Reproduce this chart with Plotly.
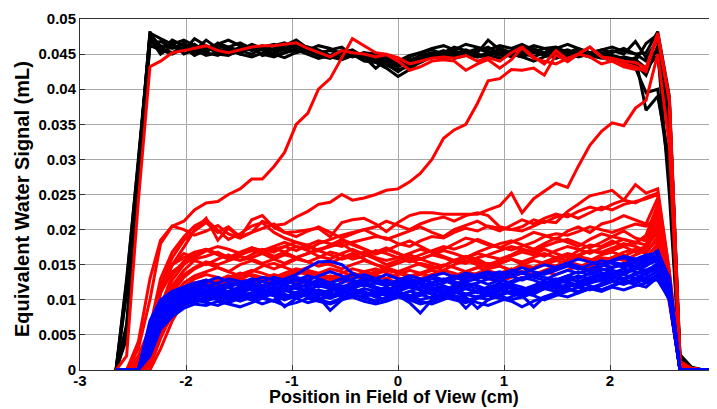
import plotly.graph_objects as go

# sample positions along the field of view (cm)
x_pos = [-2.66, -2.56, -2.45, -2.34, -2.24, -2.13, -2.02, -1.92, -1.81, -1.70,
         -1.60, -1.49, -1.38, -1.28, -1.17, -1.07, -0.96, -0.85, -0.75, -0.64,
         -0.53, -0.43, -0.32, -0.21, -0.11, 0.00, 0.11, 0.21, 0.32, 0.43,
         0.53, 0.64, 0.75, 0.85, 0.96, 1.07, 1.17, 1.28, 1.38, 1.49,
         1.60, 1.70, 1.81, 1.92, 2.02, 2.13, 2.24, 2.34, 2.45, 2.56,
         2.66, 2.77, 2.88, 2.98]

# signal values in units of 1e-4 mL
UNIT = 1e-4

black_curves = [
    [0,50,280,478,
     462,458,466,455,470,458,452,460,456,462,
     455,458,464,460,452,455,450,446,452,444,
     438,432,440,448,452,446,450,456,450,446,
     458,452,450,455,448,452,456,450,446,452,
     448,444,440,465,478,380,20,3,0,0],
    [0,110,290,482,
     455,470,462,458,452,466,460,455,450,458,
     462,466,458,454,450,448,455,452,445,440,
     436,425,436,444,450,455,448,452,458,452,
     448,454,460,452,450,446,452,458,452,448,
     455,450,468,445,470,360,15,2,0,0],
    [0,60,275,465,
     468,460,455,472,462,450,448,456,464,458,
     450,445,452,460,456,448,446,450,440,438,
     430,418,428,440,446,452,460,455,448,450,
     452,446,455,462,458,450,448,452,446,450,
     444,438,445,370,390,300,12,2,0,0],
    [0,125,300,476,
     458,452,460,448,456,462,458,450,446,452,
     458,462,470,458,450,456,460,448,444,446,
     440,436,442,446,448,444,452,448,455,460,
     450,448,452,446,452,456,450,455,448,444,
     446,440,436,420,462,340,18,3,0,0],
    [0,45,270,470,
     460,466,450,456,448,452,460,466,458,450,
     446,452,456,450,444,448,452,456,446,430,
     442,440,446,452,456,450,444,448,452,470,
     456,450,446,452,458,460,452,446,450,456,
     452,458,450,440,455,250,10,2,0,0],
    [0,130,295,472,
     450,462,458,452,460,455,450,454,460,448,
     452,456,462,454,448,444,452,450,448,442,
     434,428,432,438,446,450,455,450,446,452,
     456,446,452,458,450,444,450,448,452,446,
     440,436,430,395,400,280,8,1,0,0],
    [0,115,290,480,
     472,464,470,462,458,464,470,462,455,460,
     464,458,452,456,462,458,450,452,448,446,
     444,440,448,452,458,462,456,464,460,456,
     462,458,464,456,452,458,464,458,452,456,
     460,454,450,452,482,390,22,4,0,0],
    [0,65,270,462,
     456,450,458,464,452,448,456,450,462,456,
     448,452,458,455,450,446,442,448,452,450,
     446,438,436,442,448,444,446,450,446,448,
     444,450,446,440,446,450,444,448,452,446,
     442,446,442,430,448,330,14,2,0,0],
]

red_curves = [
    [0,0,0,10,
     60,95,118,130,136,132,128,136,142,138,
     132,138,144,140,134,130,138,144,140,134,
     130,136,142,138,132,128,134,140,146,142,
     136,142,148,144,150,156,152,146,154,160,
     158,164,156,160,180,100,3,0,0,0],
    [0,0,0,8,
     55,90,110,122,128,124,132,138,134,128,
     124,130,136,142,138,132,126,132,140,144,
     138,132,126,130,136,142,138,132,138,144,
     148,142,138,146,152,148,156,162,158,152,
     160,168,172,166,190,105,4,0,0,0],
    [0,0,0,12,
     70,104,124,134,140,146,140,134,140,148,
     152,146,140,146,154,150,144,150,156,150,
     144,140,146,152,148,142,150,156,150,146,
     152,158,154,160,166,160,156,164,170,166,
     170,176,168,174,198,110,4,0,0,0],
    [0,0,0,5,
     45,80,102,116,124,120,126,130,126,120,
     126,132,128,122,128,134,130,124,128,134,
     130,124,120,126,132,128,122,128,134,130,
     126,132,138,134,140,136,142,148,144,150,
     146,152,158,150,175,95,3,0,0,0],
    [0,0,0,15,
     80,116,136,146,154,150,156,162,158,152,
     158,164,160,154,160,168,164,158,162,170,
     166,160,154,158,164,160,154,160,166,162,
     158,164,172,168,162,170,176,172,166,174,
     180,186,182,178,220,118,5,1,0,0],
    [0,0,0,6,
     50,88,112,124,120,128,134,130,124,130,
     136,132,126,132,138,144,140,134,130,136,
     142,138,132,136,142,138,134,140,136,132,
     138,144,140,136,142,148,154,150,146,154,
     160,156,164,170,185,100,3,0,0,0],
    [0,0,0,0,
     30,70,98,114,122,128,124,130,136,132,
     128,134,140,136,130,126,132,138,134,140,
     146,140,134,138,144,150,146,140,146,152,
     148,142,150,156,152,158,164,160,156,164,
     168,162,170,176,196,108,4,0,0,0],
    [0,0,0,40,
     110,150,166,160,170,176,172,166,170,168,
     174,168,160,166,172,176,180,170,164,168,
     174,166,160,158,164,170,166,160,168,174,
     180,184,178,172,180,188,182,176,186,194,
     190,198,188,184,228,115,4,1,0,0],
    [0,0,0,30,
     90,135,155,166,172,164,158,166,174,170,
     162,168,176,170,162,158,166,172,165,158,
     150,156,164,158,152,148,156,162,158,150,
     156,162,168,164,172,166,160,170,178,176,
     184,176,182,190,200,110,4,0,0,0],
    [0,0,0,25,
     80,120,142,156,150,158,164,156,160,166,
     158,152,160,166,170,164,158,162,168,160,
     156,160,166,172,168,162,156,152,160,164,
     170,176,172,168,176,182,186,180,174,182,
     190,186,180,192,236,125,5,1,0,0],
    [0,0,0,15,
     70,110,132,144,152,146,140,150,156,150,
     144,150,158,154,148,152,160,166,158,150,
     146,152,158,150,144,148,156,160,154,148,
     152,158,150,146,154,160,166,162,170,168,
     174,180,176,170,210,110,4,1,0,0],
    [0,0,0,20,
     90,128,150,162,170,166,160,156,164,172,
     168,176,182,178,170,176,184,178,172,166,
     172,166,158,164,170,176,172,178,186,180,
     174,182,188,196,192,186,198,204,196,208,
     212,220,214,208,245,130,5,1,0,0],
    [0,0,10,60,
     130,168,190,205,214,200,186,194,205,210,
     196,188,182,176,170,178,186,180,172,165,
     170,178,184,176,168,172,180,188,184,178,
     175,171,176,182,190,194,192,197,204,200,
     196,202,208,205,218,120,5,1,0,0],
    [0,0,10,60,
     110,140,152,158,162,168,160,164,170,166,
     172,176,170,178,184,180,176,182,186,190,
     188,180,176,184,190,188,196,202,198,205,
     202,200,204,214,210,218,222,216,224,232,
     228,236,240,244,250,135,6,1,0,0],
    [0,0,40,130,
     185,205,200,192,198,206,194,188,196,202,
     208,196,190,198,204,196,188,194,200,192,
     186,192,198,204,196,190,200,206,212,204,
     198,206,214,208,216,222,218,226,232,228,
     236,242,238,246,252,140,6,1,0,0],
    [0,0,5,50,
     120,150,160,168,172,166,160,168,174,170,
     176,182,176,172,180,186,192,196,200,204,
     212,206,200,208,214,218,212,220,224,220,
     204,200,198,205,212,210,226,236,248,252,
     256,242,264,252,258,140,5,1,0,0],
    [0,0,15,55,
     110,150,175,199,216,185,202,189,214,220,
     203,196,197,200,202,190,210,214,216,208,
     197,210,220,224,224,222,222,222,222,228,
     234,252,224,244,255,266,260,290,320,340,
     352,348,373,384,450,320,10,2,0,0],
    [0,0,20,60,
     120,160,185,198,210,196,204,190,196,212,
     206,208,218,226,236,239,250,242,245,250,
     256,258,268,280,300,330,342,350,380,412,
     415,428,427,430,420,449,439,450,460,446,
     440,436,432,425,480,385,12,2,0,0],
    [0,0,30,100,
     180,205,212,228,238,240,250,258,272,272,
     290,310,350,366,400,415,445,472,462,452,
     450,445,436,440,444,446,444,448,440,445,
     440,452,460,446,436,455,442,450,460,446,
     444,440,438,430,475,383,12,2,0,0],
    [0,20,240,432,
     440,452,455,458,462,455,452,456,460,462,
     462,464,466,458,452,446,455,452,450,446,
     449,440,427,432,440,442,440,427,436,442,
     430,442,459,444,440,436,444,450,446,436,
     440,432,428,430,478,385,10,2,0,0],
]

blue_curves = [
    [0,0,0,60,
     92,104,112,118,122,116,120,126,122,118,
     124,130,136,146,154,155,150,138,130,124,
     120,126,122,118,124,130,126,120,124,130,
     128,124,130,136,132,128,134,140,136,142,
     146,150,144,148,160,120,0,0,0,0],
    [0,0,0,45,
     78,92,100,106,112,108,104,110,116,112,
     106,90,102,110,104,85,100,108,112,104,
     110,106,96,81,100,108,112,104,88,100,
     108,112,106,90,104,110,116,112,118,114,
     120,126,122,118,132,100,0,0,0,0],
    [0,0,0,70,
     100,112,118,124,128,122,118,124,130,126,
     120,126,132,128,122,118,124,130,136,130,
     124,118,122,128,134,128,122,126,132,136,
     130,136,140,134,138,144,150,146,140,148,
     154,150,158,156,168,130,0,0,0,0],
    [0,0,0,35,
     70,86,96,102,98,104,110,106,100,106,
     112,108,102,108,114,110,104,110,116,112,
     106,112,118,114,108,104,110,116,112,106,
     112,118,114,108,116,122,118,124,130,126,
     132,128,136,130,142,110,0,0,0,0],
    [0,0,0,55,
     86,98,106,112,118,114,108,114,120,116,
     110,116,122,118,126,120,114,120,126,118,
     114,120,126,122,116,112,118,124,120,114,
     120,126,132,128,122,128,134,130,138,144,
     140,136,144,150,156,118,0,0,0,0],
    [0,0,0,25,
     60,80,92,98,104,100,96,102,108,104,
     98,104,110,106,100,96,102,108,104,98,
     102,108,104,98,94,100,106,102,96,92,
     98,104,110,106,100,106,112,118,114,120,
     126,122,128,132,140,105,0,0,0,0],
    [0,0,0,65,
     96,108,116,122,118,124,130,126,120,126,
     132,128,122,128,134,140,134,128,124,130,
     136,130,124,128,134,138,132,126,130,136,
     140,134,128,134,140,146,152,148,142,150,
     156,160,152,158,170,128,0,0,0,0],
    [0,0,0,40,
     75,90,98,104,110,106,112,118,114,108,
     114,120,116,110,106,112,118,114,108,112,
     118,112,106,110,116,120,114,108,112,118,
     122,116,110,116,122,128,124,118,124,130,
     136,130,138,142,150,112,0,0,0,0],
    [0,0,0,50,
     82,96,104,110,106,112,108,102,108,114,
     110,104,110,116,112,106,112,118,122,116,
     110,116,120,114,108,114,120,116,110,116,
     124,118,112,118,124,130,126,120,128,134,
     138,144,140,136,148,115,0,0,0,0],
    [0,0,0,30,
     65,82,94,100,96,92,98,104,100,94,
     100,106,102,96,100,106,112,108,102,98,
     104,110,106,100,104,108,104,98,104,110,
     106,100,104,110,116,112,118,124,120,114,
     120,126,124,130,128,102,0,0,0,0],
    [0,0,0,60,
     90,102,110,116,112,118,124,120,114,120,
     126,122,116,122,128,124,118,124,130,126,
     120,126,130,124,120,124,130,134,128,122,
     128,134,138,132,128,136,142,138,144,150,
     146,152,148,154,162,124,0,0,0,0],
    [0,0,0,45,
     80,94,102,108,114,110,104,110,116,112,
     106,112,118,112,108,114,120,116,110,106,
     112,108,102,106,112,118,114,108,112,118,
     114,108,114,120,126,122,128,134,130,136,
     142,138,146,140,152,116,0,0,0,0],
    [0,0,0,55,
     88,100,108,114,120,116,112,118,124,120,
     116,122,128,124,118,124,130,126,120,124,
     128,122,118,124,130,126,132,138,134,130,
     136,142,138,144,150,146,152,158,154,150,
     156,162,158,164,166,132,0,0,0,0],
    [0,0,0,35,
     72,88,96,102,108,104,100,106,110,104,
     108,114,110,104,100,106,112,108,104,110,
     114,108,104,110,116,112,106,88,104,110,
     116,110,104,110,116,120,116,110,116,122,
     128,124,130,126,136,104,0,0,0,0],
    [0,0,0,50,
     84,96,106,112,108,114,118,112,106,112,
     118,114,108,114,120,116,110,116,122,118,
     112,106,112,118,114,108,114,120,116,110,
     116,122,118,112,118,124,130,126,132,138,
     134,140,146,142,150,116,0,0,0,0],
    [0,0,0,20,
     58,76,88,94,92,98,94,90,96,102,
     98,92,96,102,98,94,100,104,98,94,
     98,104,100,94,98,104,100,96,102,106,
     102,98,90,98,104,108,104,110,116,112,
     118,114,120,124,130,100,0,0,0,0],
    [0,0,0,60,
     94,106,114,120,126,132,126,120,126,132,
     128,122,128,134,130,124,130,136,132,126,
     122,128,134,130,124,128,134,130,136,140,
     134,140,146,140,136,142,148,144,150,156,
     152,146,154,160,164,128,0,0,0,0],
    [0,0,0,40,
     76,92,100,96,102,108,104,98,104,110,
     106,100,106,112,108,102,108,114,110,104,
     100,106,112,108,102,106,112,108,104,100,
     106,112,108,114,120,116,122,118,124,128,
     132,136,130,138,144,112,0,0,0,0],
]

x_ticks = [-3, -2, -1, 0, 1, 2, 3]
x_tick_text = ["-3", "-2", "-1", "0", "1", "2", "3"]
y_ticks = [0, 0.005, 0.01, 0.015, 0.02, 0.025, 0.03, 0.035, 0.04, 0.045, 0.05]
y_tick_text = ["0", "0.005", "0.01", "0.015", "0.02", "0.025", "0.03",
               "0.035", "0.04", "0.045", "0.05"]
x_title = "Position in Field of View (cm)"
y_title = "Equivalent Water Signal (mL)"

fig = go.Figure()

def add_group(curves, color):
    for c in curves:
        n = min(len(c), len(x_pos))
        fig.add_trace(go.Scatter(
            x=x_pos[:n], y=[v * UNIT for v in c[:n]], mode="lines",
            line=dict(color=color, width=3), showlegend=False,
            hoverinfo="skip"))

add_group(black_curves, "#000000")
add_group(red_curves, "#ff0000")
add_group(blue_curves, "#0000ff")

font_family = "Liberation Sans, Arial, Helvetica, sans-serif"
axis_common = dict(
    showgrid=True, gridcolor="#a8a8a8", gridwidth=1, zeroline=False,
    showline=True, linecolor="#303030", linewidth=1, mirror=True,
    ticks="inside", ticklen=5, tickcolor="#303030",
    tickfont=dict(family=font_family, size=15, color="black", weight="bold"),
    automargin=False,
)

fig.update_layout(
    width=717, height=409,
    margin=dict(l=72, r=9, t=11, b=47),
    paper_bgcolor="white", plot_bgcolor="white",
    xaxis=dict(range=[-3, 3], tickvals=x_ticks, ticktext=x_tick_text,
               ticklabelstandoff=-3, **axis_common),
    yaxis=dict(range=[0, 0.05], tickvals=y_ticks, ticktext=y_tick_text,
               **axis_common),
    annotations=[
        dict(text=x_title, xref="paper", yref="paper", x=0.494, y=0,
             xanchor="center", yanchor="middle", yshift=-27, showarrow=False,
             font=dict(family=font_family, size=18, color="black", weight="bold")),
        dict(text=y_title, xref="paper", yref="paper", x=0, y=0.487,
             xanchor="center", yanchor="middle", xshift=-58, textangle=-90,
             showarrow=False,
             font=dict(family=font_family, size=20, color="black", weight="bold")),
    ],
)

fig.write_html("out.html")
